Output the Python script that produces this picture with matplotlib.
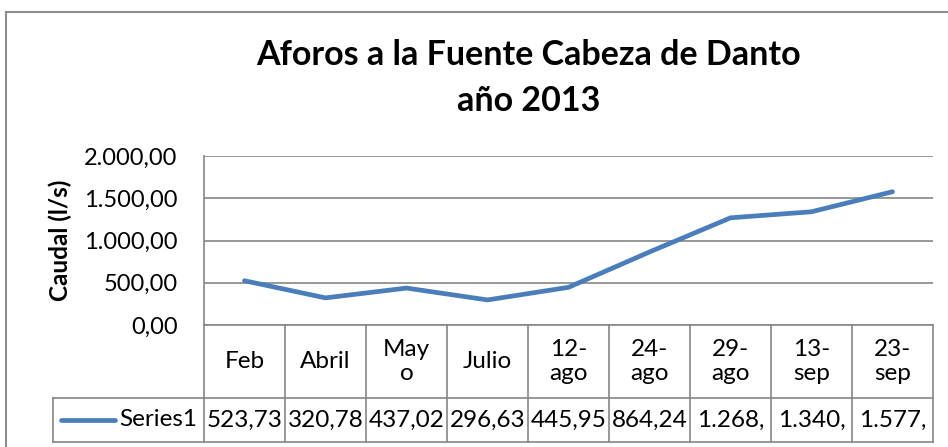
import matplotlib
matplotlib.use("Agg")
import matplotlib.pyplot as plt
from matplotlib.lines import Line2D

# data
categories = ["Feb", "Abril", "May\no", "Julio", "12-\nago", "24-\nago",
              "29-\nago", "13-\nsep", "23-\nsep"]
caudal = [523.73, 320.78, 437.02, 296.63, 445.95, 864.24, 1268.40, 1340.10, 1577.20]
yticks = [0, 500, 1000, 1500, 2000]
series_name = "Series1"

W, H = 948, 447
BLUE = "#4a7ebb"
GRID = "#868686"
FS = 17.5
plt.rcParams["font.family"] = ["Lato", "DejaVu Sans"]


def es(v):
    # spanish number format: 1.268,40
    return f"{v:,.2f}".replace(",", "X").replace(".", ",").replace("X", ".")


fig = plt.figure(figsize=(W / 100, H / 100), dpi=100)

# plot area (pixel box 204..933 x 156..325)
ax = fig.add_axes([204 / W, 1 - 325 / H, 729 / W, 169 / H])
xs = list(range(len(caudal)))
ax.plot(xs, caudal, color=BLUE, lw=3.4, solid_capstyle="round")
ax.set_xlim(-0.5, len(caudal) - 0.5)
ax.set_ylim(0, 2000)
ax.set_yticks(yticks)
ax.set_yticklabels([es(t) for t in yticks])
ax.set_xticks([])
ax.grid(axis="y", color=GRID, lw=1.2)
ax.set_axisbelow(True)
for s in ["top", "right", "bottom"]:
    ax.spines[s].set_visible(False)
ax.spines["left"].set_color(GRID)
ax.spines["left"].set_linewidth(1.2)
ax.tick_params(axis="y", length=0, labelsize=17, pad=19)

# data table below, same column scale as the plot
left_px = 53
x0 = -0.5 - (204 - left_px) / 81
tax = fig.add_axes([left_px / W, 1 - 442 / H, (933 - left_px) / W, 117 / H])
tax.set_xlim(x0, len(caudal) - 0.5)
tax.set_ylim(0, 117)
tax.axis("off")
n = len(caudal)
kw = dict(color=GRID, lw=1.2, clip_on=False)
tax.plot([-0.5, n - 0.5], [117, 117], **kw)
tax.plot([x0, n - 0.5], [44, 44], **kw)
tax.plot([x0, n - 0.5], [0, 0], **kw)
tax.plot([x0, x0], [0, 44], **kw)
for i in range(n + 1):
    tax.plot([i - 0.5, i - 0.5], [0, 117], **kw)

for i, (c, v) in enumerate(zip(categories, caudal)):
    tax.text(i, 80.5, c, ha="center", va="center", fontsize=FS, linespacing=1.2)
    tax.text(i, 22, es(v)[:6], ha="center", va="center", fontsize=FS)

# legend key inside the table
kx = lambda p: x0 + (p - left_px) / 81
tax.plot([kx(61), kx(115)], [22, 22], color=BLUE, lw=3.4, solid_capstyle="round")
tax.text(kx(197), 22, series_name, ha="right", va="center", fontsize=FS)

fig.text(60 / W, 1 - 240 / H, "Caudal (l/s)", rotation=90, ha="center", va="center",
         fontsize=FS, fontweight="bold")
fig.text(529 / W, 1 - 55 / H, "Aforos a la Fuente Cabeza de Danto", ha="center",
         va="center", fontsize=24.5, fontweight="bold")
fig.text(529 / W, 1 - 101 / H, "año 2013", ha="center", va="center",
         fontsize=24.5, fontweight="bold")

# chart border
bc = "#8c8c8c"
fig.add_artist(Line2D([6 / W, 1], [1 - 12 / H, 1 - 12 / H], color=bc, lw=1.5))
fig.add_artist(Line2D([6 / W, 6 / W], [0, 1 - 12 / H], color=bc, lw=1.5))

fig.savefig("out.png", dpi=100)
